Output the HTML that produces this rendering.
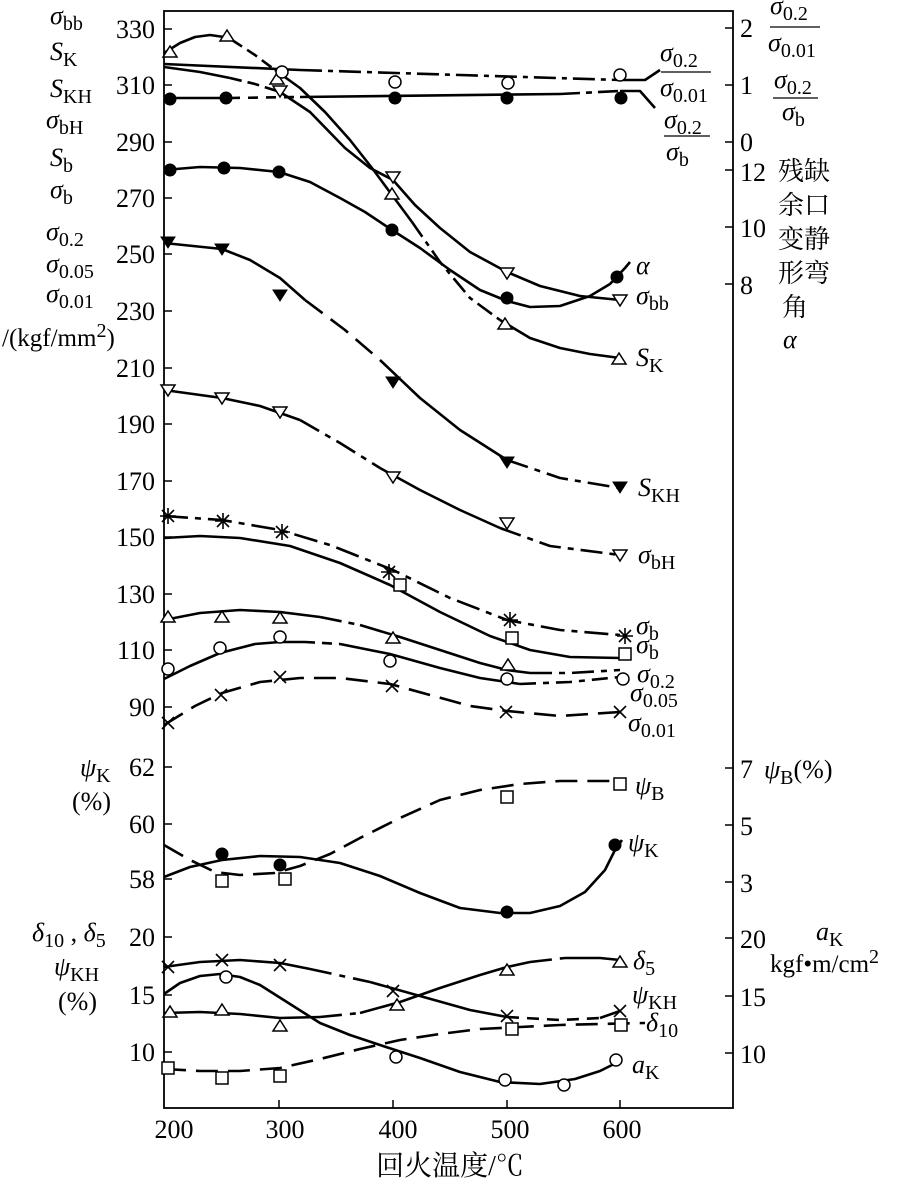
<!DOCTYPE html>
<html><head><meta charset="utf-8"><style>
html,body{margin:0;padding:0;background:#fff}
svg{display:block}
text{font-family:"Liberation Serif","Noto Serif CJK SC","Noto Sans CJK SC",serif;fill:#000}
.t{font-size:26px}
.i{font-style:italic}
.s{font-size:20px}
</style></head><body>
<svg width="902" height="1182" viewBox="0 0 902 1182" xmlns="http://www.w3.org/2000/svg">
<g fill="none" stroke="#000">
<rect x="164" y="11" width="569" height="1097" stroke-width="1.8"/>
<path stroke-width="1.5" d="M164 29h8M164 85h8M164 142h8M164 198h8M164 254h8M164 311h8M164 368h8M164 424h8M164 481h8M164 537h8M164 594h8M164 650h8M164 707h8M164 767h8M164 824h8M164 879h8M164 937h8M164 995h8M164 1052h8"/>
<path stroke-width="1.5" d="M733 28h-8M733 85h-8M733 142h-8M733 170h-8M733 227h-8M733 284h-8M733 768h-8M733 825h-8M733 882h-8M733 938h-8M733 996h-8M733 1053h-8"/>
<path stroke-width="1.5" d="M279 1108v-8M393 1108v-8M507 1108v-8M620 1108v-8"/>
</g>
<g class="t">
<text x="155" y="38" text-anchor="end">330</text><text x="155" y="94" text-anchor="end">310</text><text x="155" y="151" text-anchor="end">290</text><text x="155" y="207" text-anchor="end">270</text><text x="155" y="263" text-anchor="end">250</text><text x="155" y="320" text-anchor="end">230</text><text x="155" y="377" text-anchor="end">210</text><text x="155" y="433" text-anchor="end">190</text><text x="155" y="490" text-anchor="end">170</text><text x="155" y="546" text-anchor="end">150</text><text x="155" y="603" text-anchor="end">130</text><text x="155" y="659" text-anchor="end">110</text><text x="155" y="716" text-anchor="end">90</text>
<text x="155" y="776" text-anchor="end">62</text><text x="155" y="833" text-anchor="end">60</text><text x="155" y="888" text-anchor="end">58</text>
<text x="155" y="946" text-anchor="end">20</text><text x="155" y="1004" text-anchor="end">15</text><text x="155" y="1061" text-anchor="end">10</text>
<text x="740" y="37">2</text><text x="740" y="94">1</text><text x="740" y="151">0</text><text x="740" y="181">12</text><text x="740" y="237">10</text><text x="740" y="294">8</text>
<text x="740" y="778">7</text><text x="740" y="835">5</text><text x="740" y="892">3</text><text x="740" y="948">20</text><text x="740" y="1006">15</text><text x="740" y="1063">10</text>
<text x="174" y="1138" text-anchor="middle">200</text><text x="285" y="1138" text-anchor="middle">300</text><text x="398" y="1138" text-anchor="middle">400</text><text x="510" y="1138" text-anchor="middle">500</text><text x="622" y="1138" text-anchor="middle">600</text>
<text x="450" y="1175" text-anchor="middle" style="font-size:28px">回火温度/℃</text>
</g>
<g class="t">
<text x="50" y="24"><tspan class="i">σ</tspan><tspan class="s" dy="6">bb</tspan></text>
<text x="50" y="60"><tspan class="i">S</tspan><tspan class="s" dy="6">K</tspan></text>
<text x="50" y="97"><tspan class="i">S</tspan><tspan class="s" dy="6">KH</tspan></text>
<text x="46" y="128"><tspan class="i">σ</tspan><tspan class="s" dy="6">bH</tspan></text>
<text x="50" y="166"><tspan class="i">S</tspan><tspan class="s" dy="6">b</tspan></text>
<text x="50" y="198"><tspan class="i">σ</tspan><tspan class="s" dy="6">b</tspan></text>
<text x="46" y="240"><tspan class="i">σ</tspan><tspan class="s" dy="6">0.2</tspan></text>
<text x="46" y="272"><tspan class="i">σ</tspan><tspan class="s" dy="6">0.05</tspan></text>
<text x="46" y="302"><tspan class="i">σ</tspan><tspan class="s" dy="6">0.01</tspan></text>
<text x="2" y="346" style="font-size:25px">/(kgf/mm<tspan class="s" dy="-9">2</tspan><tspan dy="9">)</tspan></text>
<text x="80" y="776"><tspan class="i">ψ</tspan><tspan class="s" dy="6">K</tspan></text>
<text x="72" y="810">(%)</text>
<text x="32" y="941"><tspan class="i">δ</tspan><tspan class="s" dy="6">10</tspan><tspan dy="-6"> , </tspan><tspan class="i">δ</tspan><tspan class="s" dy="6">5</tspan></text>
<text x="54" y="975"><tspan class="i">ψ</tspan><tspan class="s" dy="6">KH</tspan></text>
<text x="58" y="1010">(%)</text>
</g>
<g class="t">
<text x="770" y="14"><tspan class="i">σ</tspan><tspan class="s" dy="6">0.2</tspan></text>
<line x1="770" y1="27" x2="820" y2="27" stroke="#000" stroke-width="1.3"/>
<text x="768" y="51"><tspan class="i">σ</tspan><tspan class="s" dy="6">0.01</tspan></text>
<text x="774" y="88"><tspan class="i">σ</tspan><tspan class="s" dy="6">0.2</tspan></text>
<line x1="773" y1="98" x2="818" y2="98" stroke="#000" stroke-width="1.3"/>
<text x="782" y="120"><tspan class="i">σ</tspan><tspan class="s" dy="6">b</tspan></text>
<text x="660" y="61"><tspan class="i">σ</tspan><tspan class="s" dy="6">0.2</tspan></text>
<line x1="661" y1="72" x2="711" y2="72" stroke="#000" stroke-width="1.3"/>
<text x="660" y="96"><tspan class="i">σ</tspan><tspan class="s" dy="6">0.01</tspan></text>
<text x="664" y="128"><tspan class="i">σ</tspan><tspan class="s" dy="6">0.2</tspan></text>
<line x1="664" y1="136" x2="710" y2="136" stroke="#000" stroke-width="1.3"/>
<text x="666" y="160"><tspan class="i">σ</tspan><tspan class="s" dy="6">b</tspan></text>
<text x="778" y="180">残缺</text>
<text x="778" y="214">余口</text>
<text x="778" y="248">变静</text>
<text x="778" y="282">形弯</text>
<text x="782" y="316">角</text>
<text x="783" y="348" class="i">α</text>
<text x="636" y="274" class="i">α</text>
<text x="636" y="304"><tspan class="i">σ</tspan><tspan class="s" dy="6">bb</tspan></text>
<text x="636" y="366"><tspan class="i">S</tspan><tspan class="s" dy="6">K</tspan></text>
<text x="638" y="496"><tspan class="i">S</tspan><tspan class="s" dy="6">KH</tspan></text>
<text x="638" y="563"><tspan class="i">σ</tspan><tspan class="s" dy="6">bH</tspan></text>
<text x="636" y="634"><tspan class="i">σ</tspan><tspan class="s" dy="6">b</tspan></text>
<text x="636" y="653"><tspan class="i">σ</tspan><tspan class="s" dy="6">b</tspan></text>
<text x="637" y="682"><tspan class="i">σ</tspan><tspan class="s" dy="6">0.2</tspan></text>
<text x="630" y="701"><tspan class="i">σ</tspan><tspan class="s" dy="6">0.05</tspan></text>
<text x="628" y="731"><tspan class="i">σ</tspan><tspan class="s" dy="6">0.01</tspan></text>
<text x="635" y="794"><tspan class="i">ψ</tspan><tspan class="s" dy="6">B</tspan></text>
<text x="628" y="851"><tspan class="i">ψ</tspan><tspan class="s" dy="6">K</tspan></text>
<text x="633" y="969"><tspan class="i">δ</tspan><tspan class="s" dy="6">5</tspan></text>
<text x="632" y="1003"><tspan class="i">ψ</tspan><tspan class="s" dy="6">KH</tspan></text>
<text x="646" y="1031"><tspan class="i">δ</tspan><tspan class="s" dy="6">10</tspan></text>
<text x="632" y="1073"><tspan class="i">a</tspan><tspan class="s" dy="6">K</tspan></text>
<text x="764" y="778"><tspan class="i">ψ</tspan><tspan class="s" dy="6">B</tspan><tspan dy="-6">(%)</tspan></text>
<text x="816" y="940"><tspan class="i">a</tspan><tspan class="s" dy="6">K</tspan></text>
<text x="770" y="972" style="font-size:25px">kgf•m/cm<tspan class="s" dy="-9">2</tspan></text>
</g>
<g fill="none" stroke="#000" stroke-width="2.6" stroke-linejoin="round">
<polyline points="164,53 180,43 195,37 210,35 224,37 232,40"/>
<polyline stroke-dasharray="12,6" points="232,40 255,55 275,70"/>
<polyline points="275,70 300,88 325,112 350,140 372,168 392,195 412,222"/>
<polyline stroke-dasharray="18,6,5,6" points="412,222 440,262 470,298 500,320"/>
<polyline points="500,320 530,338 560,348 590,354 620,358"/>
<polyline points="164,67 200,72 230,78"/>
<polyline stroke-dasharray="12,6" points="230,78 255,84 280,92"/>
<polyline points="280,92 310,112 345,148 370,168 393,180 415,205 440,228 470,252 507,272 540,286 580,296 620,300"/>
<polyline points="164,64 300,70"/>
<polyline stroke-dasharray="22,6,5,6" points="300,70 620,80"/>
<polyline points="620,80 645,80 660,70"/>
<polyline points="164,98 230,98"/>
<polyline stroke-dasharray="10,8" points="230,98 300,97"/>
<polyline points="300,97 560,94"/>
<polyline stroke-dasharray="20,6,6,6" points="560,94 620,91"/>
<polyline points="620,91 640,91 655,108"/>
<polyline points="164,170 200,167 240,168 279,172 310,182 340,198 365,212 392,230 420,248 450,270 480,290 507,301 530,307 560,306 590,296 610,284 625,268 630,262"/>
<polyline points="164,243 222,249 250,260 280,278 305,300"/>
<polyline stroke-dasharray="22,10" points="305,300 345,330 380,360"/>
<polyline points="380,360 420,398 460,430 507,460"/>
<polyline stroke-dasharray="22,7,6,7" points="507,460 560,478 620,488"/>
<polyline points="164,390 222,398 260,406 300,420"/>
<polyline stroke-dasharray="22,7,6,7" points="300,420 340,443 380,468"/>
<polyline points="380,468 420,490 460,510 500,528"/>
<polyline stroke-dasharray="22,7,6,7" points="500,528 550,546 620,555"/>
<polyline stroke-dasharray="24,7,6,7" points="164,516 222,520 280,530 330,545 393,570 450,598 507,620 560,630 620,635"/>
<polyline points="164,538 200,536 240,538 290,546 340,563 390,585 440,612 490,636 530,650 570,657 620,658"/>
<polyline points="164,620 200,613 240,610 280,612 320,617"/>
<polyline stroke-dasharray="22,7,6,7" points="320,617 360,625"/>
<polyline points="360,625 400,637 440,650 480,663 507,670 530,673"/>
<polyline stroke-dasharray="22,7,6,7" points="530,673 570,673 620,670"/>
<polyline points="164,679 190,666 220,653 255,644 280,642 305,642"/>
<polyline stroke-dasharray="10,7" points="305,642 340,644"/>
<polyline points="340,644 390,654 440,668 480,678 520,684"/>
<polyline stroke-dasharray="16,7,6,7" points="520,684 570,682 620,677"/>
<polyline stroke-dasharray="22,10" points="164,725 195,706 222,693 260,682 300,678 340,678 390,684 430,695 470,706 507,711 560,716 620,712"/>
<polyline stroke-dasharray="22,10" points="164,845 190,860 215,872 240,875 275,873 300,866 330,854 360,838 400,818 440,800 480,790 520,784 560,781 620,781"/>
<polyline points="164,877 190,867 222,860 260,856 300,857 340,863 380,876 420,893 460,908 500,913 530,913 560,906 585,892 605,870 615,850 622,840"/>
<polyline points="164,967 200,962 240,960 280,963 310,969"/>
<polyline stroke-dasharray="22,8,6,8" points="310,969 370,982"/>
<polyline points="370,982 420,996 470,1010 507,1017"/>
<polyline stroke-dasharray="12,8" points="507,1017 560,1020 600,1018"/>
<polyline points="600,1018 620,1011"/>
<polyline points="164,1013 200,1012 240,1014 280,1018 320,1017"/>
<polyline stroke-dasharray="22,8,6,8" points="320,1017 360,1013"/>
<polyline points="360,1013 400,1002 440,988 480,975 507,967 530,962"/>
<polyline stroke-dasharray="22,8,6,8" points="530,962 565,958"/>
<polyline points="565,958 600,958 620,960"/>
<polyline points="164,994 180,983 200,976 220,974 240,977 260,985 290,1004 320,1023 350,1035 380,1045 420,1058 460,1072 500,1082 540,1084 575,1079 600,1071 620,1061"/>
<polyline stroke-dasharray="22,10" points="164,1069 200,1071 240,1071 280,1068 320,1059 360,1049 400,1040 440,1034 480,1029 520,1027 560,1025 600,1024 645,1023"/>
</g>
<g fill="#fff" stroke="#000" stroke-width="1.5">
<polygon points="170,46 177,57 163,57"/><polygon points="227,30 234,41 220,41"/><polygon points="277,73 284,84 270,84"/><polygon points="392,188 399,199 385,199"/><polygon points="505,318 512,329 498,329"/><polygon points="619,353 626,364 612,364"/>
<polygon points="168,611 175,622 161,622"/><polygon points="222,611 229,622 215,622"/><polygon points="280,612 287,623 273,623"/><polygon points="393,632 400,643 386,643"/><polygon points="508,659 515,670 501,670"/>
<polygon points="170,1006 177,1017 163,1017"/><polygon points="222,1004 229,1015 215,1015"/><polygon points="280,1020 287,1031 273,1031"/><polygon points="397,999 404,1010 390,1010"/><polygon points="507,964 514,975 500,975"/><polygon points="620,956 627,967 613,967"/>
<polygon points="273,86 287,86 280,97"/><polygon points="386,172 400,172 393,183"/><polygon points="500,268 514,268 507,279"/><polygon points="613,295 627,295 620,306"/>
<polygon points="161,385 175,385 168,396"/><polygon points="215,393 229,393 222,404"/><polygon points="273,407 287,407 280,418"/><polygon points="386,472 400,472 393,483"/><polygon points="500,518 514,518 507,529"/><polygon points="613,550 627,550 620,561"/>
<circle cx="282" cy="72" r="6"/><circle cx="395" cy="82" r="6"/><circle cx="508" cy="83" r="6"/><circle cx="620" cy="75" r="6"/>
<circle cx="168" cy="669" r="6"/><circle cx="220" cy="648" r="6"/><circle cx="280" cy="637" r="6"/><circle cx="390" cy="661" r="6"/><circle cx="507" cy="679" r="6"/><circle cx="623" cy="679" r="6"/>
<circle cx="226" cy="977" r="6"/><circle cx="396" cy="1057" r="6"/><circle cx="505" cy="1080" r="6"/><circle cx="564" cy="1085" r="6"/><circle cx="616" cy="1060" r="6"/>
<rect x="394" y="579" width="12" height="12"/><rect x="506" y="632" width="12" height="12"/><rect x="619" y="648" width="12" height="12"/>
<rect x="501" y="791" width="12" height="12"/><rect x="614" y="778" width="12" height="12"/><rect x="216" y="875" width="12" height="12"/><rect x="279" y="873" width="12" height="12"/>
<rect x="162" y="1062" width="12" height="12"/><rect x="216" y="1072" width="12" height="12"/><rect x="274" y="1070" width="12" height="12"/><rect x="506" y="1023" width="12" height="12"/><rect x="615" y="1019" width="12" height="12"/>
</g>
<g fill="#000" stroke="#000" stroke-width="1">
<circle cx="170" cy="99" r="6"/><circle cx="226" cy="98" r="6"/><circle cx="395" cy="98" r="6"/><circle cx="507" cy="98" r="6"/><circle cx="621" cy="98" r="6"/>
<circle cx="170" cy="170" r="6"/><circle cx="224" cy="168" r="6"/><circle cx="279" cy="172" r="6"/><circle cx="392" cy="230" r="6"/><circle cx="507" cy="298" r="6"/><circle cx="617" cy="277" r="6"/>
<circle cx="222" cy="854" r="6"/><circle cx="280" cy="865" r="6"/><circle cx="507" cy="912" r="6"/><circle cx="615" cy="845" r="6"/>
<polygon points="161,237 175,237 168,248"/><polygon points="215,244 229,244 222,255"/><polygon points="273,290 287,290 280,301"/><polygon points="386,377 400,377 393,388"/><polygon points="500,457 514,457 507,468"/><polygon points="613,482 627,482 620,493"/>
</g>
<g stroke="#000" stroke-width="1.6" fill="none">
<path d="M160,516h16M168,508v16M162,510l12,12M174,510l-12,12"/>
<path d="M215,521h16M223,513v16M217,515l12,12M229,515l-12,12"/>
<path d="M274,532h16M282,524v16M276,526l12,12M288,526l-12,12"/>
<path d="M381,572h16M389,564v16M383,566l12,12M395,566l-12,12"/>
<path d="M502,620h16M510,612v16M504,614l12,12M516,614l-12,12"/>
<path d="M617,636h16M625,628v16M619,630l12,12M631,630l-12,12"/>
<path d="M162,717l12,12M174,717l-12,12M215,689l12,12M227,689l-12,12M274,671l12,12M286,671l-12,12M386,680l12,12M398,680l-12,12M500,706l12,12M512,706l-12,12M614,706l12,12M626,706l-12,12"/>
<path d="M162,961l12,12M174,961l-12,12M216,954l12,12M228,954l-12,12M274,959l12,12M286,959l-12,12M387,985l12,12M399,985l-12,12M501,1010l12,12M513,1010l-12,12M614,1005l12,12M626,1005l-12,12"/>
</g>
</svg>
</body></html>
